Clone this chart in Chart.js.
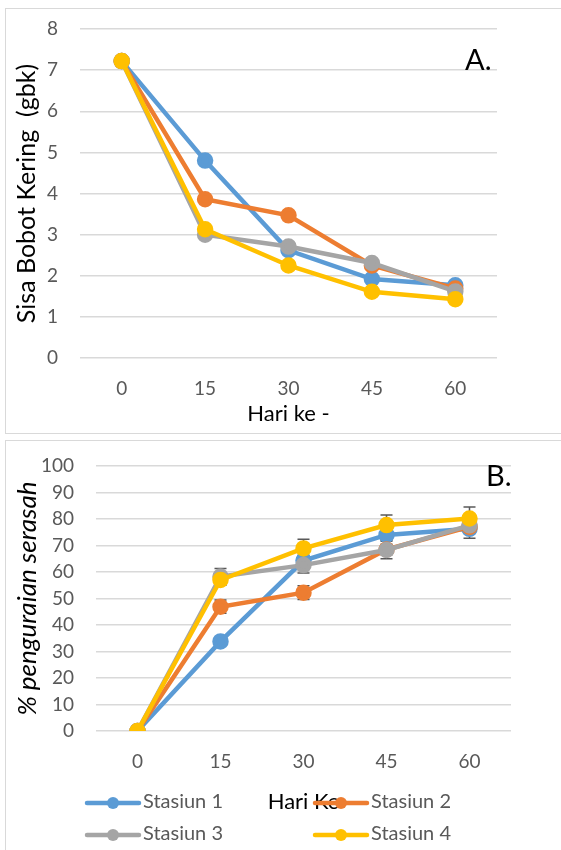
<!DOCTYPE html>
<html>
<head>
<meta charset="utf-8">
<script src="https://cdn.jsdelivr.net/npm/chart.js@4.4.1/dist/chart.umd.min.js"></script>
<style>
  html, body { margin: 0; padding: 0; background: #fff; width: 561px; height: 850px; overflow: hidden; }
  .frame { position: absolute; border: 1px solid #d9d9d9; box-sizing: border-box; }
  canvas { position: absolute; }
  .tag { position: absolute; font-family: Lato, "Liberation Sans", sans-serif; font-size: 29px; color: #000; line-height: 1; }
</style>
</head>
<body>
<div class="frame" style="left:5px; top:8px; width:600px; height:426px;"></div>
<div class="frame" style="left:5px; top:440px; width:600px; height:430px;"></div>
<canvas id="c1" width="555" height="424" style="left:6px; top:9px;"></canvas>
<canvas id="c2" width="555" height="409" style="left:6px; top:441px;"></canvas>
<div class="tag" style="left:465px; top:44px;">A.</div>
<div class="tag" style="left:486px; top:460px;">B.</div>
<script>
// ---- data ----
const days = ['0', '15', '30', '45', '60'];
const seriesNames = ['Stasiun 1', 'Stasiun 2', 'Stasiun 3', 'Stasiun 4'];

// A. Sisa Bobot Kering (gbk)
const bobot1 = [7.22, 4.80, 2.62, 1.92, 1.77];
const bobot2 = [7.22, 3.86, 3.47, 2.25, 1.69];
const bobot3 = [7.22, 3.00, 2.71, 2.31, 1.62];
const bobot4 = [7.22, 3.13, 2.25, 1.61, 1.43];

// B. % penguraian serasah
const urai1 = [0, 33.8, 64.3, 74.0, 76.3];
const urai2 = [0, 46.9, 52.2, 68.5, 77.0];
const urai3 = [0, 58.3, 62.6, 68.3, 77.6];
const urai4 = [0, 57.0, 68.9, 77.7, 80.2];
const galat1 = [0, 1.0, 2.0, 2.0, 3.6];
const galat2 = [0, 2.5, 2.6, 2.0, 2.0];
const galat3 = [0, 3.0, 3.0, 3.3, 2.0];
const galat4 = [0, 2.0, 3.5, 3.8, 4.3];

const yTicksA = [0, 1, 2, 3, 4, 5, 6, 7, 8];
const yTicksB = [0, 10, 20, 30, 40, 50, 60, 70, 80, 90, 100];

const colors = ['#5B9BD5', '#ED7D31', '#A5A5A5', '#FFC000'];
const FONT = 'Lato, "Liberation Sans", sans-serif';
const tickColor = '#595959';
const gridColor = '#d9d9d9';

function makeDatasets(arrays, errs) {
  return arrays.map((arr, i) => ({
    label: seriesNames[i],
    data: arr,
    borderColor: colors[i],
    backgroundColor: colors[i],
    pointBackgroundColor: colors[i],
    pointBorderColor: colors[i],
    borderWidth: 4.5,
    pointRadius: 6,
    pointHoverRadius: 6,
    tension: 0,
    order: 4 - i,
    errorBars: errs ? errs[i] : null
  }));
}

const errorBarPlugin = {
  id: 'errorBars',
  beforeDatasetsDraw(chart) {
    const ctx = chart.ctx;
    const yScale = chart.scales.y;
    ctx.save();
    ctx.strokeStyle = '#595959';
    ctx.lineWidth = 1.5;
    chart.data.datasets.forEach((ds, di) => {
      if (!ds.errorBars) return;
      const meta = chart.getDatasetMeta(di);
      ds.data.forEach((v, i) => {
        const e = ds.errorBars[i];
        if (!e) return;
        const x = meta.data[i].x;
        const yTop = yScale.getPixelForValue(v + e);
        const yBot = yScale.getPixelForValue(v - e);
        ctx.beginPath();
        ctx.moveTo(x, yTop); ctx.lineTo(x, yBot);
        ctx.moveTo(x - 6, yTop); ctx.lineTo(x + 6, yTop);
        ctx.moveTo(x - 6, yBot); ctx.lineTo(x + 6, yBot);
        ctx.stroke();
      });
    });
    ctx.restore();
  }
};

const customLegendPlugin = {
  id: 'customLegend',
  afterDraw(chart, args, opts) {
    if (!opts || !opts.items) return;
    const ctx = chart.ctx;
    ctx.save();
    chart.data.datasets.forEach((ds, i) => {
      const it = opts.items[i];
      ctx.strokeStyle = ds.borderColor;
      ctx.lineWidth = 4.5;
      ctx.lineCap = 'round';
      ctx.beginPath();
      ctx.moveTo(it.x, it.y);
      ctx.lineTo(it.x + 52, it.y);
      ctx.stroke();
      ctx.fillStyle = ds.borderColor;
      ctx.beginPath();
      ctx.arc(it.x + 26, it.y, 6, 0, Math.PI * 2);
      ctx.fill();
      ctx.fillStyle = tickColor;
      ctx.font = '20px ' + FONT;
      ctx.textBaseline = 'middle';
      ctx.textAlign = 'left';
      ctx.fillText(ds.label, it.x + 56, it.y - 1);
    });
    ctx.restore();
  }
};

function baseOptions(cfg) {
  return {
    responsive: false,
    animation: false,
    devicePixelRatio: 1,
    layout: { padding: { top: cfg.padTop, right: cfg.padRight, left: 0, bottom: 0 } },
    plugins: {
      legend: { display: false },
      tooltip: { enabled: false },
      customLegend: cfg.legend || {}
    },
    scales: {
      x: {
        type: 'category',
        offset: true,
        grid: { display: false, drawTicks: false },
        border: { display: false },
        ticks: { color: tickColor, font: { family: FONT, size: 19 }, padding: 19 },
        title: {
          display: true,
          text: cfg.xTitle,
          color: '#000',
          font: { family: FONT, size: 22 },
          padding: { top: 0, bottom: cfg.xTitlePadBottom }
        },
        afterFit(scale) { scale.height = cfg.xHeight; }
      },
      y: {
        min: cfg.yTicks[0],
        max: cfg.yTicks[cfg.yTicks.length - 1],
        afterBuildTicks(scale) { scale.ticks = cfg.yTicks.map(v => ({ value: v })); },
        grid: { color: gridColor, lineWidth: 1.5, drawTicks: false },
        border: { display: false },
        ticks: { color: tickColor, font: { family: FONT, size: 19 }, padding: 22 },
        title: {
          display: true,
          text: cfg.yTitle,
          color: '#000',
          font: { family: FONT, size: cfg.yTitleSize, style: cfg.yTitleStyle || 'normal' },
          padding: { top: 6, bottom: 0 }
        },
        afterFit(scale) {
          scale.width = cfg.yWidth;
          scale.paddingTop = 0;
          scale.paddingBottom = 0;
        }
      }
    }
  };
}

new Chart(document.getElementById('c1'), {
  type: 'line',
  data: { labels: days, datasets: makeDatasets([bobot1, bobot2, bobot3, bobot4], null) },
  options: baseOptions({
    padTop: 20, padRight: 64, yWidth: 74, xHeight: 75, xTitlePadBottom: 6,
    xTitle: 'Hari ke -', yTitle: 'Sisa Bobot Kering  (gbk)', yTitleSize: 25, yTicks: yTicksA
  })
});

new Chart(document.getElementById('c2'), {
  type: 'line',
  data: { labels: days, datasets: makeDatasets([urai1, urai2, urai3, urai4], [galat1, galat2, galat3, galat4]) },
  options: baseOptions({
    padTop: 25, padRight: 50, yWidth: 90, xHeight: 119, xTitlePadBottom: 35,
    xTitle: 'Hari Ke', yTitle: '% penguraian serasah', yTitleSize: 26, yTitleStyle: 'italic', yTicks: yTicksB,
    legend: { items: [ { x: 81, y: 362 }, { x: 309, y: 362 }, { x: 81, y: 394 }, { x: 309, y: 394 } ] }
  }),
  plugins: [errorBarPlugin, customLegendPlugin]
});
</script>
</body>
</html>
